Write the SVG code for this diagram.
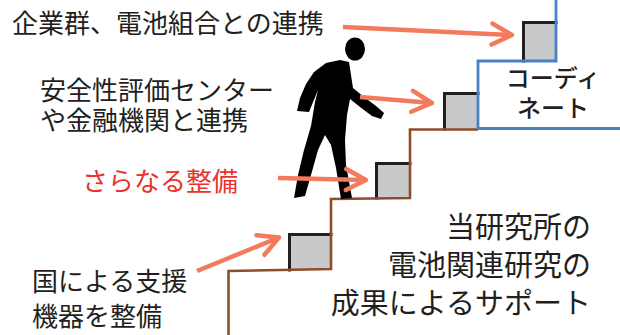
<svg xmlns="http://www.w3.org/2000/svg" width="620" height="335" viewBox="0 0 620 335">
  <style>
    .txt { font-family: "Noto Sans CJK JP", "Noto Sans", sans-serif; fill: #231f20; }
    .lbl { font-size: 26px; }
    .big { font-size: 29px; }
    .coord { font-size: 24px; font-weight: 500; }
    .red { fill: #e8332a; }
    .step { fill: #c8c9cb; }
    .edge { fill: none; stroke: #231f20; stroke-width: 3; stroke-linecap: square; }
    .arrow { fill: none; stroke: #f47a5e; stroke-width: 4.5; marker-end: url(#chev); }
    .stair { fill: none; stroke: #8f4c2b; stroke-width: 2.6; stroke-linejoin: miter; }
    .blue { fill: none; stroke: #4a80c4; stroke-width: 2.8; stroke-linejoin: miter; }
  </style>
  <defs>
    <marker id="chev" markerUnits="userSpaceOnUse" markerWidth="34" markerHeight="34" viewBox="-28 -17 34 34" refX="0" refY="0" orient="auto">
      <path d="M-20,-10.5 L0,0 L-20,10.5" fill="none" stroke="#f47a5e" stroke-width="4.5" stroke-linejoin="round" stroke-linecap="round"/>
    </marker>
    <linearGradient id="fade" x1="0" y1="0" x2="1" y2="0">
      <stop offset="0" stop-color="#8f4c2b" stop-opacity="0"/>
      <stop offset="1" stop-color="#8f4c2b" stop-opacity="0.9"/>
    </linearGradient>
  </defs>

  <!-- steps (grey blocks with dark top/left edges) -->
  <g id="step1">
    <rect class="step" x="522" y="21" width="34" height="40"/>
    <path class="edge" d="M523.5,61 V22.5 H556"/>
  </g>
  <g id="step2">
    <rect class="step" x="443" y="92" width="35" height="37"/>
    <path class="edge" d="M444.5,129 V93.5 H478"/>
  </g>
  <g id="step3">
    <rect class="step" x="375" y="162" width="35" height="36"/>
    <path class="edge" d="M376.5,198 V163.5 H410"/>
  </g>
  <g id="step4">
    <rect class="step" x="288" y="233" width="43" height="37"/>
    <path class="edge" d="M289.5,270 V234.5 H331"/>
  </g>

  <!-- stair outline and coordinator block -->
  <g id="stairs">
    <path class="stair" d="M228.5,335 V271 L331,269 V199 L410,198 V129.5 H478"/>
    <line x1="525" y1="333.5" x2="620" y2="333.5" stroke="url(#fade)" stroke-width="2"/>
  </g>
  <g id="coordinate">
    <path class="blue" d="M556,0 V61 H478 V128.5 H620"/>
    <text class="txt coord" x="553" y="87" text-anchor="middle">コーディ</text>
    <text class="txt coord" x="553" y="117" text-anchor="middle">ネート</text>
  </g>

  <!-- walking figure -->
  <g id="walker" fill="#000">
    <ellipse cx="355" cy="49" rx="10" ry="11.5"/>
    <path d="M340,60 L349,62 L351,75 L353,88 L364,97 L376,106 L384,113 L381,119 L372,116 L360,107 L350,99 L347,115 L345,140 L346,165 L352,198 L341,199 L336,168 L331,145 L325,135 L318,150 L311,175 L305,196 L294,198 L298,175 L304,150 L311,126 L315,102 L318,90 L309,112 L297,111 L300,98 L306,84 L314,72 L326,63 Z"/>
  </g>

  <!-- arrows -->
  <g id="connectors">
    <line class="arrow" x1="343" y1="27" x2="512" y2="35"/>
    <line class="arrow" x1="360" y1="97" x2="432" y2="103"/>
    <line class="arrow" x1="278" y1="178" x2="366" y2="180"/>
    <line class="arrow" x1="197" y1="271" x2="279" y2="237.5"/>
  </g>

  <!-- labels -->
  <g id="label-companies">
    <text class="txt lbl" x="12" y="33">企業群、電池組合との連携</text>
  </g>
  <g id="label-safety">
    <text class="txt lbl" x="40" y="100">安全性評価センター</text>
    <text class="txt lbl" x="40" y="130">や金融機関と連携</text>
  </g>
  <g id="label-further">
    <text class="txt lbl red" x="82" y="191">さらなる整備</text>
  </g>
  <g id="label-national">
    <text class="txt lbl" x="32" y="291">国による支援</text>
    <text class="txt lbl" x="32" y="326">機器を整備</text>
  </g>
  <g id="label-research">
    <text class="txt big" x="591" y="238" text-anchor="end">当研究所の</text>
    <text class="txt big" x="591" y="276" text-anchor="end">電池関連研究の</text>
    <text class="txt big" x="591" y="314" text-anchor="end">成果によるサポート</text>
  </g>
</svg>
